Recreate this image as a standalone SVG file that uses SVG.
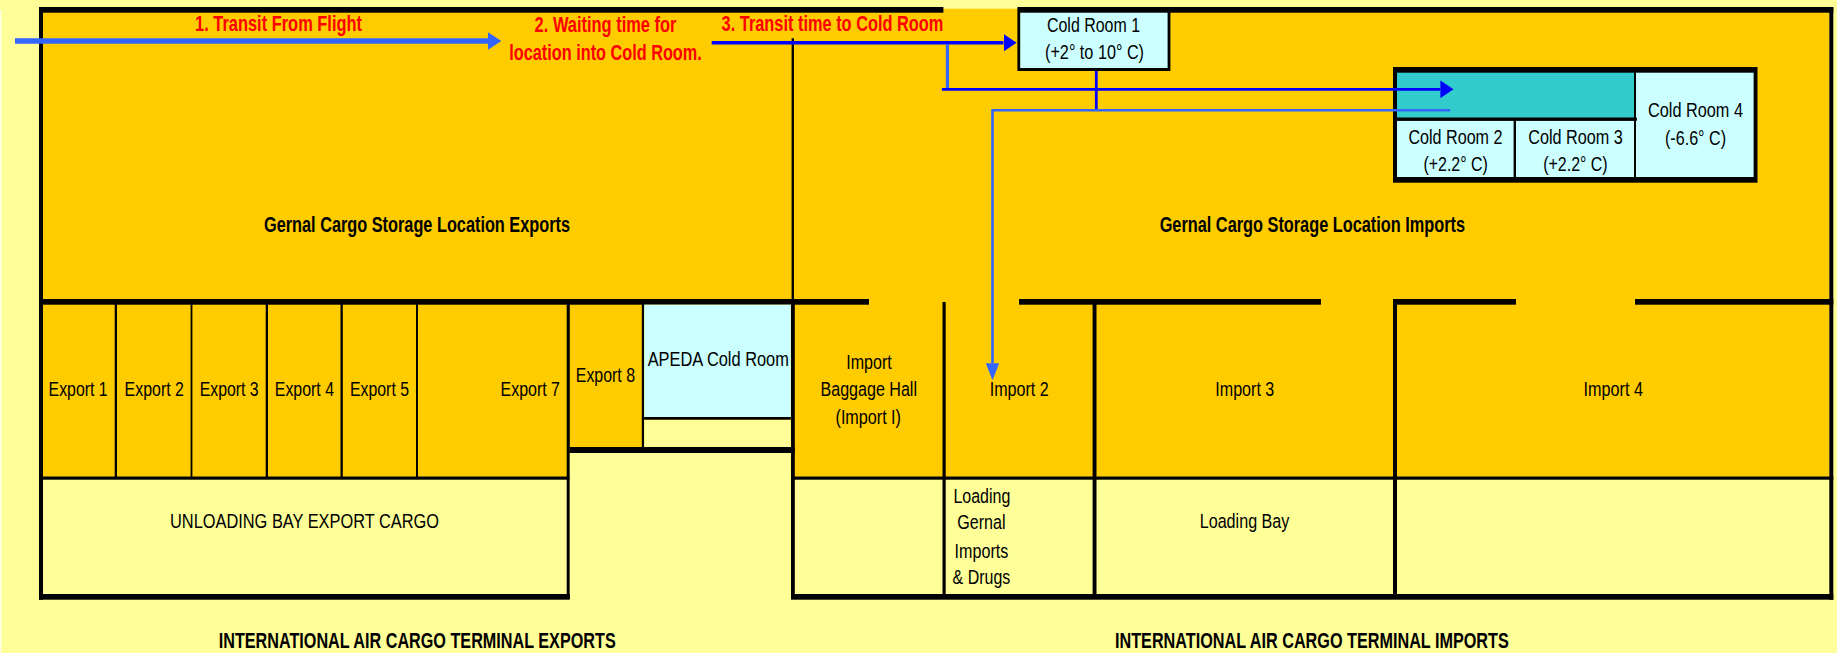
<svg xmlns="http://www.w3.org/2000/svg" width="1837" height="653" viewBox="0 0 1837 653">
<style>
text{font-family:"Liberation Sans",Arial,sans-serif;font-size:20.5px;fill:#000}
.b{font-weight:bold;font-size:21.5px}
.r{font-weight:bold;font-size:21.5px;fill:#FF0000}
.o{fill:#FFCC00}
.y{fill:#FFFF99}
.c{fill:#CCFFFF}
.t{fill:#33CCCC}
.k{fill:#000}
.l1{stroke:#3366FF;fill:none}
.l2{stroke:#0000FF;fill:none}
</style>
<defs>
<marker id="hLight" viewBox="0 0 13.4 17.7" refX="0" refY="8.85" markerUnits="userSpaceOnUse" markerWidth="13.4" markerHeight="17.7" orient="auto"><polygon points="0,0 13.4,8.85 0,17.7" fill="#3366FF"/></marker>
<marker id="hBlue" viewBox="0 0 13.1 17.7" refX="0" refY="8.85" markerUnits="userSpaceOnUse" markerWidth="13.1" markerHeight="17.7" orient="auto"><polygon points="0,0 13.1,8.85 0,17.7" fill="#0000FF"/></marker>
<marker id="hDown" viewBox="0 0 17 13.4" refX="0" refY="6.7" markerUnits="userSpaceOnUse" markerWidth="17" markerHeight="13.4" orient="auto"><polygon points="0,0 17,6.7 0,13.4" fill="#3366FF"/></marker>
</defs>
<rect id="background" width="1837" height="653" class="y"/>
<rect x="0" y="10" width="1.5" height="643" fill="#FFFFE0"/>

<g id="building">
<rect class="o" x="43" y="8.7" width="1786.3" height="468"/>
<rect class="y" x="43" y="479.7" width="524" height="114.3"/>
<rect class="y" x="794.8" y="479.7" width="1034.5" height="114.3"/>
<rect class="k" x="39" y="7" width="904.4" height="5.7"/>
<rect class="k" x="1018" y="7" width="815.3" height="5.7"/>
<rect class="k" x="39" y="7" width="4" height="592.7"/>
<rect class="k" x="1829.3" y="7" width="4" height="592.7"/>
<rect class="k" x="39" y="299" width="830" height="5.7"/>
<rect class="k" x="1019" y="299" width="302" height="5.7"/>
<rect class="k" x="1393" y="299" width="123" height="5.7"/>
<rect class="k" x="1635" y="299" width="198.3" height="5.7"/>
<rect class="k" x="791.6" y="38.3" width="2.4" height="261"/>
<rect class="k" x="39" y="476.5" width="530.8" height="3.2"/>
<rect class="k" x="791" y="476.5" width="1042.3" height="3.2"/>
<rect class="k" x="39" y="594" width="530.8" height="5.7"/>
<rect class="k" x="791" y="594" width="1042.3" height="5.7"/>
</g>

<g id="label-storage-exports"><text class="b" x="264" y="232" textLength="306" lengthAdjust="spacingAndGlyphs">Gernal Cargo Storage Location Exports</text></g>
<g id="label-storage-imports"><text class="b" x="1159.7" y="232" textLength="305.3" lengthAdjust="spacingAndGlyphs">Gernal Cargo Storage Location Imports</text></g>

<g id="export-1"><rect class="k" x="114.7" y="304" width="2.3" height="173"/><text x="48.6" y="395.5" textLength="59" lengthAdjust="spacingAndGlyphs">Export 1</text></g>
<g id="export-2"><rect class="k" x="190.6" y="304" width="1.8" height="173"/><text x="124.6" y="395.5" textLength="59.3" lengthAdjust="spacingAndGlyphs">Export 2</text></g>
<g id="export-3"><rect class="k" x="265.7" y="304" width="2.3" height="173"/><text x="199.7" y="395.5" textLength="58.9" lengthAdjust="spacingAndGlyphs">Export 3</text></g>
<g id="export-4"><rect class="k" x="340.5" y="304" width="2.3" height="173"/><text x="274.8" y="395.5" textLength="59.2" lengthAdjust="spacingAndGlyphs">Export 4</text></g>
<g id="export-5"><rect class="k" x="416" y="304" width="2" height="173"/><text x="350" y="395.5" textLength="59" lengthAdjust="spacingAndGlyphs">Export 5</text></g>
<g id="export-7"><rect class="k" x="566.7" y="304" width="3.1" height="295"/><text x="500.6" y="395.5" textLength="59.4" lengthAdjust="spacingAndGlyphs">Export 7</text></g>
<g id="export-8"><rect class="y" x="569.8" y="453" width="221" height="141"/><rect class="k" x="641.8" y="304" width="2.4" height="143"/><rect class="k" x="569.8" y="447" width="225" height="6"/><text x="575.8" y="381.5" textLength="59.2" lengthAdjust="spacingAndGlyphs">Export 8</text></g>
<g id="apeda-cold-room"><rect class="c" x="644.2" y="304.7" width="146.6" height="112.3"/><rect class="y" x="644.2" y="419.7" width="146.6" height="27.3"/><rect class="k" x="644.2" y="417" width="146.6" height="2.7"/><text x="647.7" y="365.5" textLength="141.2" lengthAdjust="spacingAndGlyphs">APEDA Cold Room</text></g>
<g id="unloading-bay"><text x="170" y="528" textLength="269" lengthAdjust="spacingAndGlyphs">UNLOADING BAY EXPORT CARGO</text></g>

<g id="import-1"><rect class="k" x="791" y="302" width="3.8" height="297"/><text x="846.2" y="368.5" textLength="45.5" lengthAdjust="spacingAndGlyphs">Import</text><text x="820.5" y="395.5" textLength="96.5" lengthAdjust="spacingAndGlyphs">Baggage Hall</text><text x="835.5" y="423.5" textLength="65.5" lengthAdjust="spacingAndGlyphs">(Import I)</text></g>
<g id="import-2"><rect class="k" x="942.5" y="302" width="3.2" height="297"/><text x="989.7" y="395.5" textLength="59" lengthAdjust="spacingAndGlyphs">Import 2</text></g>
<g id="loading-gernal"><text x="953.4" y="502.5" textLength="56.9" lengthAdjust="spacingAndGlyphs">Loading</text><text x="957.3" y="529.3" textLength="48.3" lengthAdjust="spacingAndGlyphs">Gernal</text><text x="954.6" y="557.5" textLength="53.7" lengthAdjust="spacingAndGlyphs">Imports</text><text x="952.6" y="584.3" textLength="57.7" lengthAdjust="spacingAndGlyphs">&amp; Drugs</text></g>
<g id="import-3"><rect class="k" x="1092.6" y="302" width="3.9" height="297"/><text x="1215.3" y="395.5" textLength="59" lengthAdjust="spacingAndGlyphs">Import 3</text></g>
<g id="import-4"><rect class="k" x="1393" y="302" width="4" height="297"/><text x="1583.5" y="395.5" textLength="59.4" lengthAdjust="spacingAndGlyphs">Import 4</text></g>
<g id="loading-bay"><text x="1199.7" y="528" textLength="89.7" lengthAdjust="spacingAndGlyphs">Loading Bay</text></g>

<g id="cold-room-1"><rect class="k" x="1017.4" y="7" width="153" height="64"/><rect class="c" x="1020.2" y="12.7" width="147.4" height="55.3"/><text x="1047" y="32" textLength="93" lengthAdjust="spacingAndGlyphs">Cold Room 1</text><text x="1045" y="59" textLength="99" lengthAdjust="spacingAndGlyphs">(+2° to 10° C)</text></g>

<g id="cold-rooms-block"><rect class="k" x="1393" y="67" width="364.5" height="115.7"/><rect class="t" x="1397" y="72.7" width="237" height="45"/><rect class="c" x="1636" y="72.7" width="117.6" height="104.3"/><rect class="c" x="1397" y="120.7" width="116.6" height="56.3"/><rect class="c" x="1516" y="120.7" width="118" height="56.3"/><rect class="k" x="1397" y="117.7" width="240" height="3"/></g>
<g id="cold-room-2"><text x="1408.4" y="144" textLength="94.1" lengthAdjust="spacingAndGlyphs">Cold Room 2</text><text x="1423.4" y="171" textLength="64.5" lengthAdjust="spacingAndGlyphs">(+2.2° C)</text></g>
<g id="cold-room-3"><text x="1528.2" y="144" textLength="94.5" lengthAdjust="spacingAndGlyphs">Cold Room 3</text><text x="1543.2" y="171" textLength="64.5" lengthAdjust="spacingAndGlyphs">(+2.2° C)</text></g>
<g id="cold-room-4"><text x="1648" y="116.5" textLength="95" lengthAdjust="spacingAndGlyphs">Cold Room 4</text><text x="1665" y="145" textLength="61" lengthAdjust="spacingAndGlyphs">(-6.6° C)</text></g>

<g id="connectors">
<line class="l1" x1="15" y1="41" x2="488" y2="41" stroke-width="5.4" marker-end="url(#hLight)"/>
<line class="l2" x1="711.7" y1="42.7" x2="1003.5" y2="42.7" stroke-width="3.4" marker-end="url(#hBlue)"/>
<line class="l1" x1="947.4" y1="44" x2="947.4" y2="88" stroke-width="3.2"/>
<line class="l2" x1="941.9" y1="89.3" x2="1440.4" y2="89.3" stroke-width="2.8" marker-end="url(#hBlue)"/>
<line class="l2" x1="1096.3" y1="71" x2="1096.3" y2="109" stroke-width="2.8"/>
<polyline class="l1" points="1450.3,110.3 992.5,110.3 992.5,363.3" stroke-width="2.6" marker-end="url(#hDown)"/>
</g>

<g id="step-labels">
<text class="r" x="195" y="31" textLength="167" lengthAdjust="spacingAndGlyphs">1. Transit From Flight</text>
<text class="r" x="534.6" y="32" textLength="141.9" lengthAdjust="spacingAndGlyphs">2. Waiting time for</text>
<text class="r" x="509.3" y="60" textLength="192.5" lengthAdjust="spacingAndGlyphs">location into Cold Room.</text>
<text class="r" x="721.6" y="31" textLength="221.8" lengthAdjust="spacingAndGlyphs">3. Transit time to Cold Room</text>
</g>
<g id="title-exports"><text class="b" x="218.7" y="648" textLength="397" lengthAdjust="spacingAndGlyphs">INTERNATIONAL AIR CARGO TERMINAL EXPORTS</text></g>
<g id="title-imports"><text class="b" x="1115" y="648" textLength="393.8" lengthAdjust="spacingAndGlyphs">INTERNATIONAL AIR CARGO TERMINAL IMPORTS</text></g>
</svg>
